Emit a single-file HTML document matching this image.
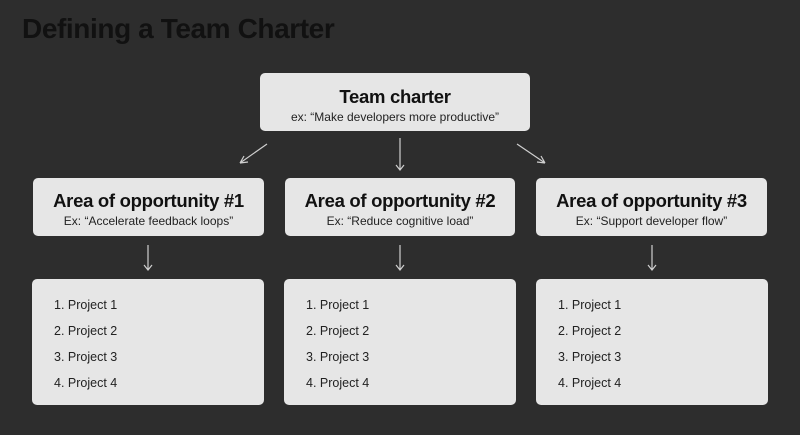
<!DOCTYPE html>
<html><head><meta charset="utf-8"><style>
html,body{margin:0;padding:0;}
body{width:800px;height:435px;background:#2d2d2d;position:relative;overflow:hidden;font-family:"Liberation Sans",sans-serif;}
.t{position:absolute;left:22px;top:13px;font-size:28px;font-weight:bold;color:#111;letter-spacing:-0.4px;}
.b{position:absolute;background:#e6e6e6;border-radius:5px;text-align:center;color:#111;}
.h{font-size:18.5px;font-weight:bold;letter-spacing:-0.3px;}
.s{font-size:12px;color:#222;margin-top:2px;}
.l{position:absolute;background:#e6e6e6;border-radius:5px;color:#222;font-size:12.5px;}
.l div{position:absolute;left:22px;}
svg{position:absolute;left:0;top:0;}
</style></head><body>
<div class="t">Defining a Team Charter</div>
<div class="b" style="left:260px;top:73px;width:270px;height:58px;"><div class="h" style="padding-top:13px">Team charter</div><div class="s">ex: “Make developers more productive”</div></div>
<div class="b" style="left:33px;top:178px;width:231px;height:58px;"><div class="h" style="padding-top:12px">Area of opportunity #1</div><div class="s">Ex: “Accelerate feedback loops”</div></div>
<div class="b" style="left:285px;top:178px;width:230px;height:58px;"><div class="h" style="padding-top:12px">Area of opportunity #2</div><div class="s">Ex: “Reduce cognitive load”</div></div>
<div class="b" style="left:536px;top:178px;width:231px;height:58px;"><div class="h" style="padding-top:12px">Area of opportunity #3</div><div class="s">Ex: “Support developer flow”</div></div>
<div class="l" style="left:32px;top:279px;width:232px;height:126px;"><div style="top:19px">1. Project 1</div><div style="top:45px">2. Project 2</div><div style="top:71px">3. Project 3</div><div style="top:97px">4. Project 4</div></div>
<div class="l" style="left:284px;top:279px;width:232px;height:126px;"><div style="top:19px">1. Project 1</div><div style="top:45px">2. Project 2</div><div style="top:71px">3. Project 3</div><div style="top:97px">4. Project 4</div></div>
<div class="l" style="left:536px;top:279px;width:232px;height:126px;"><div style="top:19px">1. Project 1</div><div style="top:45px">2. Project 2</div><div style="top:71px">3. Project 3</div><div style="top:97px">4. Project 4</div></div>
<svg width="800" height="435" fill="none" stroke="#cfcfcf" stroke-width="1.2">
<path d="M267 144 L240 163 M240 163 L248 162 M240 163 L244 156"/>
<path d="M400 138 L400 170 M396 165 L400 170 L404 165"/>
<path d="M517 144 L545 163 M545 163 L537 162 M545 163 L541 156"/>
<path d="M148 245 L148 270 M144 265 L148 270 L152 265"/>
<path d="M400 245 L400 270 M396 265 L400 270 L404 265"/>
<path d="M652 245 L652 270 M648 265 L652 270 L656 265"/>
</svg>
</body></html>
